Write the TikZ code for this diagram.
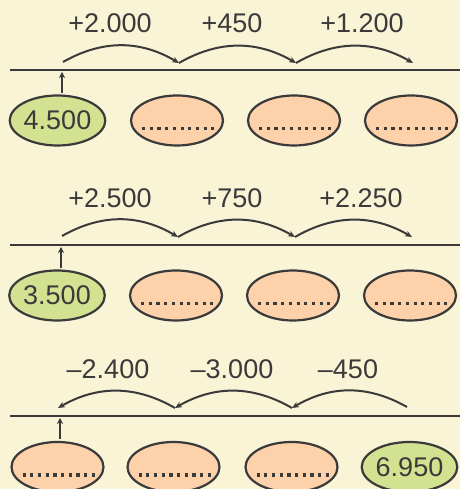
\documentclass[tikz,border=0pt]{standalone}
\usepackage{fontspec}
\setmainfont{Liberation Sans}
\usetikzlibrary{shapes.geometric,arrows.meta}
\definecolor{cream}{HTML}{FAF4D6}
\definecolor{ink}{HTML}{3A3A3A}
\definecolor{lime}{HTML}{D3E291}
\definecolor{peach}{HTML}{FDD1AA}
\begin{document}
\begin{tikzpicture}[x=1pt,y=1pt]
\tikzstyle{given} = [ellipse,draw=ink,line width=2.2pt,fill=lime,text=ink,minimum width=92pt,minimum height=50pt,inner sep=0pt,font=\fontsize{27}{27}\selectfont]
\tikzstyle{blank} = [given,fill=peach]
\tikzstyle{axis} = [ink,line width=2.6pt]
\tikzstyle{jump} = [ink,line width=2pt,-{Stealth[length=7pt,width=6pt]}]
\tikzstyle{jumplab} = [text=ink,inner sep=0pt,font=\fontsize{27}{27}\selectfont]
\tikzstyle{gaps} = [ink,line width=3.2pt,dash pattern=on 3.2pt off 4.5pt]
\tikzstyle{pointer} = [ink,line width=2pt,-{Stealth[length=6pt,width=6pt]}]
\useasboundingbox[fill=cream] (0,0) rectangle (460,489);
% first row
\coordinate (a1) at (10,419);
\coordinate (b1) at (460,419);
\draw[axis] (a1) -- (b1);
\node[given] (e11) at (57.5,368.5) {4.500};
\node[blank] (e12) at (177,368.5) {};
\node[blank] (e13) at (294,368.5) {};
\node[blank] (e14) at (411,368.5) {};
\coordinate (p10) at (63,427);
\coordinate (p11) at (179,426);
\coordinate (p12) at (296,426);
\coordinate (p13) at (413,426);
\draw[jump] (p10) to[bend left=30] (p11);
\draw[jump] (p11) to[bend left=30] (p12);
\draw[jump] (p12) to[bend left=30] (p13);
\node[jumplab] (t11) at (110,466) {+2.000};
\node[jumplab] (t12) at (232,466) {+450};
\node[jumplab] (t13) at (362,466) {+1.200};
\coordinate (u1) at (62,396);
\coordinate (v1) at (62,417);
\draw[pointer] (u1) -- (v1);
% second row
\coordinate (a2) at (10,244);
\coordinate (b2) at (460,244);
\draw[axis] (a2) -- (b2);
\node[given] (e21) at (57,193.5) {3.500};
\node[blank] (e22) at (176,193.5) {};
\node[blank] (e23) at (293,193.5) {};
\node[blank] (e24) at (410,193.5) {};
\coordinate (p20) at (62,253);
\coordinate (p21) at (178,252);
\coordinate (p22) at (295,252);
\coordinate (p23) at (412,252);
\draw[jump] (p20) to[bend left=30] (p21);
\draw[jump] (p21) to[bend left=30] (p22);
\draw[jump] (p22) to[bend left=30] (p23);
\node[jumplab] (t21) at (110,291) {+2.500};
\node[jumplab] (t22) at (232,291) {+750};
\node[jumplab] (t23) at (361,291) {+2.250};
\coordinate (u2) at (61,221);
\coordinate (v2) at (61,242);
\draw[pointer] (u2) -- (v2);
% third row
\coordinate (a3) at (10,73);
\coordinate (b3) at (460,73);
\draw[axis] (a3) -- (b3);
\node[blank] (e31) at (57.5,22) {};
\node[blank] (e32) at (173.5,22) {};
\node[blank] (e33) at (291.5,22) {};
\node[given] (e34) at (409.5,22) {6.950};
\coordinate (p30) at (58,81);
\coordinate (p31) at (175,81);
\coordinate (p32) at (292,81);
\coordinate (p33) at (407,82);
\draw[jump] (p31) to[bend right=30] (p30);
\draw[jump] (p32) to[bend right=30] (p31);
\draw[jump] (p33) to[bend right=30] (p32);
\node[jumplab] (t31) at (108,120) {–2.400};
\node[jumplab] (t32) at (232,120) {–3.000};
\node[jumplab] (t33) at (348,120) {–450};
\coordinate (u3) at (60,50);
\coordinate (v3) at (60,71);
\draw[pointer] (u3) -- (v3);
% dotted blanks
\foreach \e in {e12,e13,e14,e22,e23,e24,e31,e32,e33}
  \draw[gaps] ([xshift=-35pt,yshift=-8pt]\e.center) -- ([xshift=37pt,yshift=-8pt]\e.center);
\end{tikzpicture}
\end{document}
